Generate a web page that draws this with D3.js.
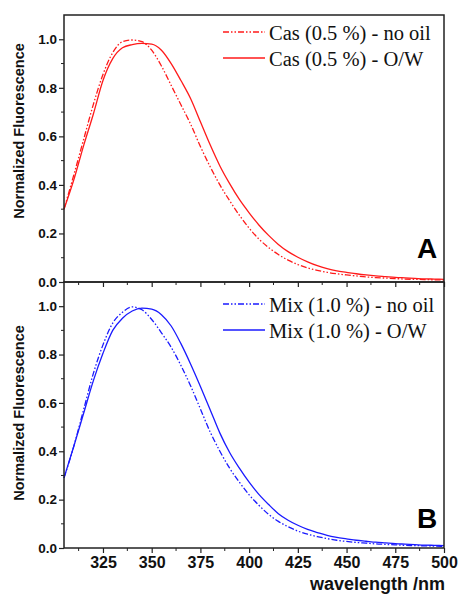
<!DOCTYPE html>
<html lang="en">
<head>
<meta charset="utf-8">
<title>Normalized Fluorescence</title>
<script src="https://cdn.jsdelivr.net/npm/d3@7/dist/d3.min.js"></script>
<style>
  body { margin: 0; background: #fff; }
  svg { display: block; }
</style>
</head>
<body>
<svg width="458" height="596"></svg>
<script>
// wavelength (nm), 5 nm steps
var wavelength = [305,310,315,320,325,330,335,340,345,350,355,360,365,370,375,380,385,390,395,400,
                  405,410,415,420,425,430,435,440,445,450,455,460,465,470,475,480,485,490,495,500];

// panel A : caseinate 0.5 %
var casNoOil = [0.30,0.44,0.585,0.73,0.855,0.945,0.99,0.997,0.99,0.955,0.89,0.81,0.73,0.65,0.558,0.475,0.40,0.335,0.275,0.222,
                0.177,0.142,0.113,0.09,0.072,0.058,0.048,0.040,0.034,0.029,0.025,0.021,0.018,0.016,0.014,0.012,0.011,0.010,0.009,0.008];
var casOW    = [0.30,0.42,0.56,0.69,0.83,0.92,0.965,0.978,0.983,0.98,0.955,0.90,0.83,0.755,0.66,0.565,0.478,0.405,0.34,0.285,
                0.235,0.192,0.155,0.125,0.102,0.083,0.067,0.055,0.046,0.040,0.034,0.029,0.025,0.022,0.019,0.017,0.015,0.013,0.012,0.011];

// panel B : mix 1.0 %
var mixNoOil = [0.29,0.42,0.57,0.72,0.84,0.93,0.975,0.997,0.985,0.945,0.89,0.83,0.755,0.67,0.575,0.48,0.40,0.33,0.272,0.22,
                0.177,0.139,0.11,0.088,0.07,0.057,0.047,0.039,0.032,0.027,0.023,0.020,0.017,0.015,0.013,0.011,0.010,0.009,0.008,0.007];
var mixOW    = [0.29,0.42,0.555,0.69,0.805,0.90,0.95,0.98,0.992,0.988,0.965,0.918,0.845,0.76,0.668,0.572,0.475,0.395,0.33,0.272,
                0.222,0.18,0.142,0.115,0.094,0.077,0.064,0.052,0.044,0.038,0.032,0.028,0.024,0.021,0.018,0.016,0.014,0.012,0.011,0.010];

var xTicks = [325,350,375,400,425,450,475,500];
var yTicks = [0.0,0.2,0.4,0.6,0.8,1.0];

var svg = d3.select('svg');
var red = '#ff1a1a', blue = '#1a1aff';
var dashDotDot = '6,2,1.5,2,1.5,2';

var x = d3.scaleLinear().domain([305, 500]).range([64, 444]);

function panel(top, bottom, series, legend, letter, showXLabels) {
    var y = d3.scaleLinear().domain([0, 1.1]).range([bottom, top]);
    var g = svg.append('g');

    // minor ticks
    var yMinor = d3.range(0.1, 1.1, 0.2);
    g.selectAll('line.ymin').data(yMinor).enter().append('line')
        .attr('x1', 64).attr('x2', 61)
        .attr('y1', d => y(d)).attr('y2', d => y(d))
        .attr('stroke', '#222').attr('stroke-width', 1);
    var xMinor = d3.range(312.5, 500, 25);
    g.selectAll('line.xmin').data(xMinor).enter().append('line')
        .attr('x1', d => x(d)).attr('x2', d => x(d))
        .attr('y1', bottom).attr('y2', bottom + 3)
        .attr('stroke', '#222').attr('stroke-width', 1);

    // axes
    var yAxis = d3.axisLeft(y).tickValues(yTicks).tickFormat(d3.format('.1f'))
        .tickSize(5).tickPadding(2);
    var ya = g.append('g').attr('transform', 'translate(64,0)').call(yAxis);
    ya.select('.domain').remove();
    ya.selectAll('line').attr('stroke', '#222').attr('stroke-width', 1.2);
    ya.selectAll('text').attr('font-family', 'Arial, "Liberation Sans", sans-serif')
        .attr('font-weight', 'bold').attr('font-size', '13.5px').attr('fill', '#111');

    var xAxis = d3.axisBottom(x).tickValues(xTicks).tickSize(5).tickPadding(4)
        .tickFormat(showXLabels ? d3.format('d') : '');
    var xa = g.append('g').attr('transform', 'translate(0,' + bottom + ')').call(xAxis);
    xa.select('.domain').remove();
    xa.selectAll('line').attr('stroke', '#222').attr('stroke-width', 1.2);
    xa.selectAll('text').attr('font-family', 'Arial, "Liberation Sans", sans-serif')
        .attr('font-weight', 'bold').attr('font-size', '16px').attr('fill', '#111');

    // curves
    series.forEach(function(s) {
        var line = d3.line()
            .x((d, i) => x(wavelength[i]))
            .y(d => y(d))
            .curve(d3.curveMonotoneX);
        g.append('path').datum(s.values)
            .attr('d', line)
            .attr('fill', 'none')
            .attr('stroke', s.color)
            .attr('stroke-width', 1.3)
            .attr('stroke-dasharray', s.dash);
    });

    // frame
    g.append('rect').attr('x', 64).attr('y', top)
        .attr('width', 444 - 64).attr('height', bottom - top)
        .attr('fill', 'none').attr('stroke', '#222').attr('stroke-width', 1.5);

    // legend
    legend.rows.forEach(function(r, i) {
        var ly = legend.y + i * 26;
        g.append('line').attr('x1', 223).attr('x2', 265)
            .attr('y1', ly).attr('y2', ly)
            .attr('stroke', series[i].color).attr('stroke-width', 1.3)
            .attr('stroke-dasharray', series[i].dash);
        g.append('text').attr('x', 269).attr('y', ly + 7.5)
            .attr('font-family', '"Times New Roman", "Liberation Serif", serif')
            .attr('font-size', '20.5px').attr('fill', '#111')
            .text(r);
    });

    g.append('text').attr('x', 417).attr('y', letter.y)
        .attr('font-family', 'Arial, "Liberation Sans", sans-serif')
        .attr('font-weight', 'bold').attr('font-size', '28px').attr('fill', '#000')
        .text(letter.t);

    g.append('text')
        .attr('transform', 'translate(24,' + legend.titleY + ') rotate(-90)')
        .attr('text-anchor', 'middle')
        .attr('font-family', 'Arial, "Liberation Sans", sans-serif')
        .attr('font-weight', 'bold').attr('font-size', '14.5px').attr('fill', '#111')
        .text('Normalized Fluorescence');
}

panel(15, 282,
    [{values: casNoOil, color: red, dash: dashDotDot}, {values: casOW, color: red, dash: null}],
    {rows: ['Cas (0.5 %) - no oil', 'Cas (0.5 %) - O/W'], y: 32, titleY: 131},
    {t: 'A', y: 258}, false);

panel(282, 548,
    [{values: mixNoOil, color: blue, dash: dashDotDot}, {values: mixOW, color: blue, dash: null}],
    {rows: ['Mix (1.0 %) - no oil', 'Mix (1.0 %) - O/W'], y: 304, titleY: 413},
    {t: 'B', y: 528}, true);

svg.append('text').attr('x', 310).attr('y', 590)
    .attr('font-family', 'Arial, "Liberation Sans", sans-serif')
    .attr('font-weight', 'bold').attr('font-size', '18px').attr('fill', '#111')
    .text('wavelength /nm');
</script>
</body>
</html>
